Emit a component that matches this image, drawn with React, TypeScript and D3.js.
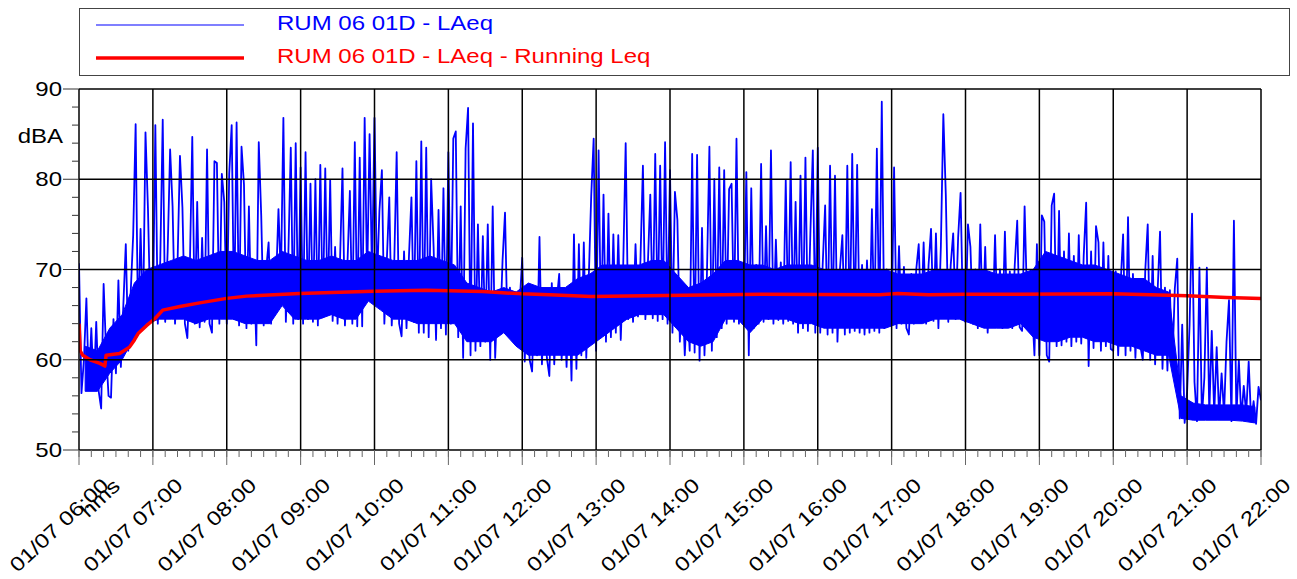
import React from "react";
import * as d3 from "d3";

const W = 1297;
const H = 579;
const PLOT = { left: 79, right: 1261, top: 89, bottom: 450 };
const STRETCH = 1.2; // the reference text is drawn wider than it is tall
const FONT = "'Liberation Sans', Arial, sans-serif";

const START = new Date(2021, 6, 1, 6, 0);
const END = new Date(2021, 6, 1, 22, 0);
const STEP_MIN = 2;
const BAND_MIN = 10;

// LAeq, one value every 2 minutes, one array per hour
const laeq06 = [70.7, 56.3, 60.0, 66.8, 57.0, 63.5, 56.8, 64.2, 56.5, 54.6, 68.4, 61.0, 56.0, 55.8, 64.5, 58.5, 68.8, 59.2, 66.0, 72.8, 61.0, 67.5, 73.8, 86.1, 63.0, 74.5, 64.0, 85.2, 76.8, 64.5];
const laeq07 = [64.5, 86.0, 64.0, 71.0, 86.6, 64.2, 72.0, 83.3, 77.0, 64.0, 70.5, 82.6, 76.9, 64.0, 62.4, 70.0, 84.7, 64.0, 77.5, 63.6, 73.5, 64.2, 83.3, 64.0, 63.0, 82.0, 81.8, 64.0, 80.6, 77.5];
const laeq08 = [64.0, 80.6, 86.0, 64.5, 86.3, 63.8, 83.6, 79.4, 63.5, 77.0, 64.0, 70.5, 61.6, 84.1, 76.0, 63.8, 70.0, 73.0, 64.0, 71.0, 68.3, 76.7, 68.8, 86.8, 64.2, 71.5, 83.5, 64.0, 84.0, 64.5];
const laeq09 = [81.3, 64.0, 83.0, 64.5, 79.5, 64.2, 80.0, 63.8, 81.6, 64.7, 81.2, 65.0, 79.9, 64.3, 72.5, 64.0, 71.0, 81.2, 63.8, 70.5, 78.7, 64.0, 84.1, 63.7, 82.4, 63.7, 86.8, 68.5, 85.0, 69.0];
const laeq10 = [86.8, 68.5, 76.5, 81.0, 64.0, 71.0, 78.0, 63.8, 70.5, 83.0, 64.0, 62.6, 72.0, 63.5, 71.5, 78.0, 64.2, 82.0, 63.0, 84.2, 63.0, 83.5, 62.5, 80.0, 72.5, 62.2, 76.6, 63.5, 79.0, 62.8];
const laeq11 = [83.0, 64.0, 84.5, 85.3, 62.5, 77.0, 60.2, 83.4, 87.9, 60.5, 86.2, 61.0, 75.0, 61.5, 73.7, 62.0, 75.0, 60.0, 77.0, 60.2, 67.5, 63.0, 71.0, 76.3, 63.2, 68.0, 63.0, 67.5, 61.5, 66.5];
const laeq12 = [71.3, 59.8, 67.5, 60.0, 58.7, 68.0, 60.5, 73.6, 59.5, 67.0, 60.2, 58.2, 68.5, 59.5, 66.5, 69.5, 60.0, 67.0, 59.2, 68.0, 57.7, 73.9, 59.0, 72.8, 60.5, 73.0, 60.2, 69.0, 78.1, 84.5];
const laeq13 = [61.0, 83.2, 62.5, 78.3, 62.0, 76.2, 62.5, 73.9, 63.0, 73.8, 62.2, 70.5, 84.0, 64.5, 70.0, 64.2, 72.8, 64.8, 71.0, 81.5, 64.5, 70.5, 78.3, 64.6, 82.8, 64.3, 81.5, 64.5, 84.1, 64.0];
const laeq14 = [81.0, 63.0, 78.6, 75.5, 62.0, 68.0, 60.5, 66.5, 61.0, 82.8, 60.8, 82.7, 59.9, 74.6, 60.5, 69.5, 83.6, 61.0, 80.0, 62.5, 81.3, 63.5, 81.0, 64.0, 78.9, 79.5, 64.2, 84.5, 64.0, 70.5];
const laeq15 = [64.0, 80.8, 60.5, 79.0, 63.5, 70.5, 64.0, 81.7, 64.2, 74.8, 64.5, 83.2, 64.0, 73.3, 64.4, 70.8, 64.0, 79.9, 64.3, 81.9, 64.0, 77.5, 63.0, 80.4, 63.5, 82.4, 63.2, 74.0, 83.2, 63.0];
const laeq16 = [83.5, 63.0, 70.5, 77.1, 62.8, 81.5, 63.0, 80.4, 62.0, 70.0, 73.8, 62.8, 81.5, 63.0, 82.8, 63.2, 81.6, 63.0, 70.5, 62.8, 71.0, 63.0, 76.7, 63.2, 83.4, 63.0, 88.6, 63.5, 70.0, 63.8];
const laeq17 = [64.0, 81.3, 63.5, 72.6, 64.0, 70.3, 63.5, 62.8, 69.5, 64.0, 70.0, 72.8, 64.2, 73.0, 64.0, 70.5, 74.5, 64.3, 74.0, 63.5, 72.6, 87.2, 78.3, 64.2, 70.5, 74.0, 64.5, 73.5, 78.5, 64.5];
const laeq18 = [64.2, 75.0, 72.5, 64.0, 70.0, 63.5, 75.0, 63.8, 72.5, 63.0, 69.5, 63.8, 73.8, 64.0, 70.0, 63.5, 74.2, 63.8, 69.8, 63.5, 70.5, 75.4, 63.6, 63.2, 77.0, 66.5, 69.5, 66.0, 60.5, 72.8];
const laeq19 = [60.5, 76.0, 75.3, 60.5, 59.8, 77.1, 78.4, 61.5, 76.5, 61.6, 72.0, 62.0, 74.0, 61.5, 71.5, 62.0, 73.8, 61.8, 71.5, 77.4, 59.3, 72.0, 61.3, 74.8, 73.0, 61.0, 73.0, 61.5, 71.5, 61.2];
const laeq20 = [61.0, 69.8, 60.5, 68.5, 73.9, 60.5, 75.8, 61.0, 69.5, 60.2, 68.0, 61.5, 60.0, 69.9, 75.0, 60.0, 71.5, 59.5, 67.5, 74.2, 59.0, 68.0, 58.8, 67.7, 59.2, 67.9, 71.2, 53.5, 63.9, 53.0];
const laeq21 = [56.5, 63.9, 76.2, 57.5, 53.2, 70.2, 53.6, 58.0, 70.2, 54.0, 63.2, 54.0, 61.4, 53.6, 58.5, 54.0, 62.0, 66.6, 53.2, 75.4, 53.6, 60.0, 53.5, 57.1, 54.0, 59.8, 53.2, 55.4, 52.9, 57.0, 55.5];

// dense core of the LAeq trace, per 10-minute block (six blocks per row = one hour, 06:00 .. 21:50)
const bandLow = [
  56.5, 56.5, 58.5, 60.0, 62.5, 64.0,
  64.5, 64.5, 64.5, 64.0, 64.5, 64.5,
  64.5, 64.0, 64.0, 64.0, 66.0, 64.5,
  64.5, 64.5, 65.0, 64.5, 64.5, 66.5,
  65.5, 64.5, 64.5, 64.0, 64.0, 64.0,
  64.0, 62.0, 62.0, 62.0, 63.0, 61.5,
  60.5, 60.5, 60.5, 60.5, 60.5, 61.5,
  62.5, 63.5, 64.5, 65.0, 65.0, 65.0,
  63.5, 62.0, 61.5, 62.0, 64.5, 64.5,
  63.0, 64.5, 64.5, 64.5, 64.0, 64.0,
  63.5, 63.5, 63.5, 63.5, 63.5, 63.5,
  64.0, 64.0, 64.0, 64.5, 64.5, 64.5,
  64.0, 63.5, 63.5, 63.5, 64.0, 62.5,
  62.0, 62.0, 62.5, 62.5, 62.0, 62.0,
  61.5, 61.5, 61.0, 60.5, 60.5, 53.5,
  53.3, 53.3, 53.3, 53.3, 53.2, 53.0,
];
const bandHigh = [
  61.5, 61.0, 63.5, 65.0, 68.5, 70.0,
  70.5, 71.0, 71.5, 71.0, 71.5, 72.0,
  72.0, 71.5, 71.0, 71.0, 72.0, 71.5,
  71.0, 71.0, 71.5, 71.0, 71.0, 72.0,
  71.5, 71.0, 71.0, 71.0, 71.5, 71.0,
  70.5, 68.5, 68.0, 67.5, 68.0, 67.5,
  68.5, 68.0, 68.0, 68.0, 69.0, 69.5,
  70.5, 70.5, 70.5, 70.5, 71.0, 71.0,
  69.5, 68.0, 68.5, 69.5, 71.0, 71.0,
  70.5, 70.5, 70.0, 70.5, 70.5, 70.5,
  70.0, 70.0, 70.0, 70.0, 70.0, 70.0,
  69.5, 69.5, 69.5, 70.0, 70.0, 70.0,
  70.0, 70.0, 69.5, 69.5, 69.5, 70.0,
  72.0, 71.5, 71.0, 70.5, 70.5, 70.0,
  69.5, 69.0, 69.0, 68.0, 67.5, 56.0,
  55.2, 55.0, 55.0, 55.0, 55.0, 54.8,
];

// running Leq: [minutes after 06:00, dB]
const runningLeq: [number, number][] = [
  [0, 64.0], [1, 61.0], [3, 60.5], [9, 60.0], [17, 59.6], [21, 59.3], [22, 60.5],
  [33, 60.7], [41, 61.4], [45, 62.2], [48, 62.9], [55, 63.8], [62, 64.6], [68, 65.5],
  [82, 65.9], [98, 66.3], [120, 66.8], [136, 67.05], [179, 67.35], [239, 67.6],
  [282, 67.7], [328, 67.55], [360, 67.3], [382, 67.2], [416, 67.0], [460, 67.1],
  [554, 67.25], [650, 67.2], [665, 67.35], [690, 67.2], [720, 67.25], [840, 67.3],
  [900, 67.1], [932, 66.9], [960, 66.8],
];

const yMajor = [50, 60, 70, 80, 90];
const yMinor = d3.range(50, 91, 2);

const seriesNames = ["RUM 06 01D - LAeq", "RUM 06 01D - LAeq - Running Leq"];
const seriesColors = ["#0000ff", "#ff0000"];

const fmt = d3.timeFormat("%d/%m %H:%M");

const Txt = ({ x, y, anchor = "start", fill = "#000", rotate = 0, dy, children }: any) => (
  <text
    transform={`translate(${x},${y}) rotate(${rotate}) scale(${STRETCH},1)`}
    textAnchor={anchor}
    fill={fill}
    dy={dy}
    style={{ fontSize: 20, fontFamily: FONT }}
  >
    {children}
  </text>
);

type Pt = { t: Date; v: number };

const App = () => {
  const x = d3.scaleTime().domain([START, END]).range([PLOT.left, PLOT.right]);
  const y = d3.scaleLinear().domain([50, 90]).range([PLOT.bottom, PLOT.top]);

  const laeq: Pt[] = [
    ...laeq06, ...laeq07, ...laeq08, ...laeq09, ...laeq10, ...laeq11, ...laeq12, ...laeq13,
    ...laeq14, ...laeq15, ...laeq16, ...laeq17, ...laeq18, ...laeq19, ...laeq20, ...laeq21,
  ].map((v, i) => ({ t: d3.timeMinute.offset(START, i * STEP_MIN), v }));
  const leq: Pt[] = runningLeq.map(([m, v]) => ({ t: d3.timeMinute.offset(START, m), v }));
  const band = bandLow.map((lo, i) => ({
    t: d3.timeMinute.offset(START, i * BAND_MIN + BAND_MIN / 2),
    lo,
    hi: bandHigh[i],
  }));

  const line = d3
    .line<Pt>()
    .x((d) => x(d.t))
    .y((d) => y(d.v));
  const area = d3
    .area<{ t: Date; lo: number; hi: number }>()
    .x((d) => x(d.t))
    .y0((d) => y(d.lo))
    .y1((d) => y(d.hi));

  const hours = d3.timeHour.range(START, d3.timeMinute.offset(END, 1));
  const minorX = d3.timeMinute.every(10)!.range(START, d3.timeMinute.offset(END, 1));

  return (
    <div style={{ position: "absolute", left: 0, top: 0 }}>
      <svg width={W} height={H} style={{ display: "block", background: "#fff" }}>
        <defs>
          <clipPath id="plot">
            <rect x={PLOT.left} y={PLOT.top} width={PLOT.right - PLOT.left} height={PLOT.bottom - PLOT.top} />
          </clipPath>
        </defs>

        {/* legend */}
        <rect x={79.5} y={8.5} width={1210} height={67} fill="none" stroke="#444" />
        {seriesNames.map((name, i) => (
          <g key={name}>
            <line
              x1={96} x2={244} y1={25 + i * 33} y2={25 + i * 33}
              stroke={seriesColors[i]} strokeWidth={i === 0 ? 1.2 : 3.5}
            />
            <Txt x={277} y={30 + i * 33} fill={seriesColors[i]}>{name}</Txt>
          </g>
        ))}

        {/* data */}
        <g clipPath="url(#plot)">
          <path d={area(band) ?? ""} fill="#0000ff" stroke="#0000ff" strokeWidth={1} />
          <path d={line(laeq) ?? ""} fill="none" stroke="#0000ff" strokeWidth={1.8} strokeLinejoin="round" />
          <path d={line(leq) ?? ""} fill="none" stroke="#ff0000" strokeWidth={3.5} strokeLinejoin="round" />
        </g>

        {/* grid */}
        {yMajor.map((v) => (
          <line key={v} x1={PLOT.left} x2={PLOT.right} y1={y(v)} y2={y(v)} stroke="#000" strokeWidth={1.5} />
        ))}
        {hours.map((t) => (
          <line key={+t} x1={x(t)} x2={x(t)} y1={PLOT.top} y2={PLOT.bottom} stroke="#000" strokeWidth={1.5} />
        ))}

        {/* y axis */}
        {yMinor.map((v) => (
          <line key={v} x1={v % 10 === 0 ? 63 : 72} x2={PLOT.left} y1={y(v)} y2={y(v)} stroke="#333" strokeWidth={1} />
        ))}
        {yMajor.map((v) => (
          <Txt key={v} x={62} y={y(v)} anchor="end" dy="0.36em">{v}</Txt>
        ))}
        <Txt x={63} y={y(84)} anchor="end">dBA</Txt>

        {/* x axis */}
        {minorX.map((t) => (
          <line key={+t} x1={x(t)} x2={x(t)} y1={PLOT.bottom} y2={PLOT.bottom + 7} stroke="#666" strokeWidth={1} />
        ))}
        {hours.map((t) => (
          <g key={+t}>
            <line x1={x(t)} x2={x(t)} y1={PLOT.bottom} y2={PLOT.bottom + 15} stroke="#666" strokeWidth={1} />
            <Txt x={x(t) - 20} y={525} anchor="middle" rotate={-43} dy="0.35em">{fmt(t)}</Txt>
          </g>
        ))}
        <Txt x={100} y={498} anchor="middle" rotate={-43} dy="0.35em">hms</Txt>
      </svg>
    </div>
  );
};

export default App;
